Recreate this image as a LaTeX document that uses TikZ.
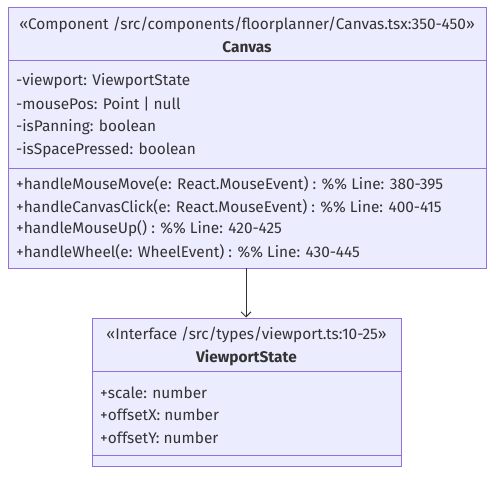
\documentclass[tikz,border=0pt]{standalone}
\usepackage{fontspec}
\setmainfont{Fira Sans}
\usetikzlibrary{arrows.meta}
\definecolor{boxfill}{HTML}{ECECFF}
\definecolor{boxline}{HTML}{9370DB}
\definecolor{txt}{HTML}{333333}
\begin{document}
\begin{tikzpicture}[x=1pt,y=-1pt,
  classbox/.style={draw=boxline,fill=boxfill,line width=1pt,rectangle,inner sep=0pt},
  divider/.style={draw=boxline,line width=1pt},
  member/.style={anchor=west,inner sep=0pt,text=txt,font=\fontsize{15.4}{17}\selectfont},
  title/.style={anchor=center,inner sep=0pt,text=txt,font=\fontsize{15.4}{17}\selectfont},
  conn/.style={draw=txt,line width=1pt,-{Straight Barb[length=5pt,width=10pt]}}]
\useasboundingbox (0,0) rectangle (502,481);
% Canvas class
\node[classbox,minimum width=478pt,minimum height=260pt] (canvas) at (247,138) {};
\draw[divider] (canvas.west |- 0,61) coordinate (c1) -- (canvas.east |- 0,61) coordinate (c2);
\draw[divider] (canvas.west |- 0,168) coordinate (c3) -- (canvas.east |- 0,168) coordinate (c4);
\node[title] (cster) at (247,25) {«Component /src/components/floorplanner/Canvas.tsx:350-450»};
\node[title,font=\fontsize{15.4}{17}\selectfont\bfseries] (cname) at (247,47) {Canvas};
\node[member] (ca1) at (16,81) {-viewport: ViewportState};
\node[member] (ca2) at (16,104) {-mousePos: Point | null};
\node[member] (ca3) at (16,127) {-isPanning: boolean};
\node[member] (ca4) at (16,150) {-isSpacePressed: boolean};
\node[member] (cm1) at (16,184) {+handleMouseMove(e: React.MouseEvent) : \%\% Line: 380-395};
\node[member] (cm2) at (16,207) {+handleCanvasClick(e: React.MouseEvent) : \%\% Line: 400-415};
\node[member] (cm3) at (16,229) {+handleMouseUp() : \%\% Line: 420-425};
\node[member] (cm4) at (16,252) {+handleWheel(e: WheelEvent) : \%\% Line: 430-445};
% ViewportState class
\node[classbox,minimum width=309pt,minimum height=148pt] (vp) at (246.5,392) {};
\draw[divider] (vp.west |- 0,371) coordinate (v1) -- (vp.east |- 0,371) coordinate (v2);
\draw[divider] (vp.west |- 0,455) coordinate (v3) -- (vp.east |- 0,455) coordinate (v4);
\node[title] (vster) at (246.5,335) {«Interface /src/types/viewport.ts:10-25»};
\node[title,font=\fontsize{15.4}{17}\selectfont\bfseries] (vname) at (246.5,358) {ViewportState};
\node[member] (va1) at (100,393) {+scale: number};
\node[member] (va2) at (100,415) {+offsetX: number};
\node[member] (va3) at (100,438) {+offsetY: number};
% connector
\coordinate (ctop) at (246,268);
\coordinate (cbot) at (246,317.5);
\draw[conn] (ctop) -- (cbot);
\end{tikzpicture}
\end{document}
